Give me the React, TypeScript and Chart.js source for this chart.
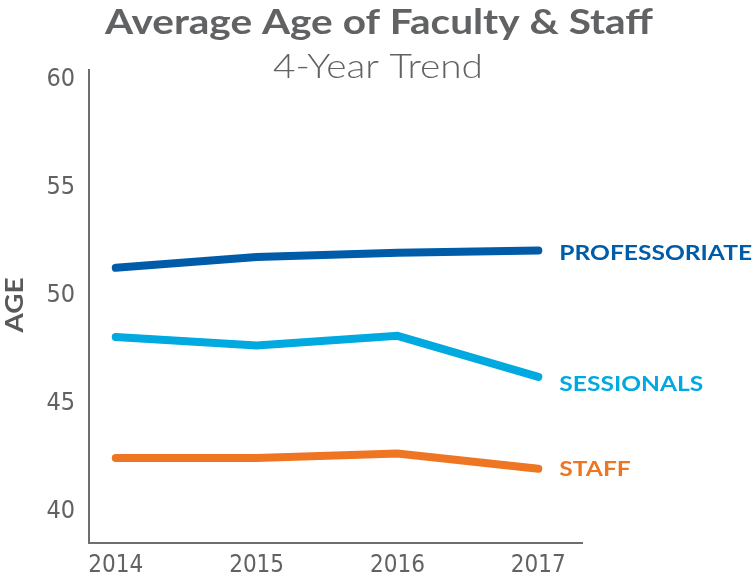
import React, { useEffect, useRef } from "react";
import { Chart, registerables } from "chart.js";

Chart.register(...registerables);

const years = [2014, 2015, 2016, 2017];
const professoriate = [51.3, 51.8, 52.0, 52.1];
const sessionals = [48.1, 47.7, 48.15, 46.25];
const staff = [42.5, 42.5, 42.7, 42.0];
const seriesNames = ["PROFESSORIATE", "SESSIONALS", "STAFF"];
const seriesColors = ["#005ca8", "#00a9e0", "#ee7623"];
const labelNudge = [3, 7, 1];
const yTicks = [40, 45, 50, 55, 60];
const titleText = "Average Age of Faculty & Staff";
const subtitleText = "4-Year Trend";
const yAxisTitle = "AGE";

const GRAY = "#616264";
const NARROW = "'Liberation Sans Narrow', 'DejaVu Sans Condensed', 'Roboto Condensed', Roboto, sans-serif";
const HEAD = "Lato, 'Open Sans', sans-serif";

function fitText(ctx: any, text: string, cx: number, cy: number, width: number, align: "center" | "left") {
  const w = ctx.measureText(text).width;
  const sx = width / w;
  ctx.save();
  ctx.translate(cx, cy);
  ctx.scale(sx, 1);
  ctx.textAlign = align;
  ctx.fillText(text, 0, 0);
  ctx.restore();
}

const decorPlugin = {
  id: "decor",
  afterDraw(chart: any) {
    const ctx = chart.ctx;
    ctx.save();
    ctx.fillStyle = GRAY;
    ctx.textBaseline = "middle";
    ctx.font = `bold 34px ${HEAD}`;
    fitText(ctx, titleText, 379, 23, 548, "center");
    ctx.font = `300 33px ${HEAD}`;
    fitText(ctx, subtitleText, 378, 67, 210, "center");

    ctx.save();
    ctx.translate(15, 305);
    ctx.rotate(-Math.PI / 2);
    ctx.font = `bold 25px ${HEAD}`;
    ctx.fillStyle = "#58595b";
    fitText(ctx, yAxisTitle, 0, 0, 55, "center");
    ctx.restore();

    chart.data.datasets.forEach((ds: any, i: number) => {
      const meta = chart.getDatasetMeta(i);
      const last = meta.data[meta.data.length - 1];
      ctx.font = `bold 21px ${HEAD}`;
      ctx.fillStyle = seriesColors[i];
      const w = ctx.measureText(seriesNames[i]).width * 1.17;
      fitText(ctx, seriesNames[i], last.x + 21, last.y + labelNudge[i], w, "left");
    });
    ctx.restore();
  },
};

export default function App() {
  const ref = useRef<HTMLCanvasElement | null>(null);
  useEffect(() => {
    if (!ref.current) return;
    const mk = (vals: number[]) => years.map((y, i) => ({ x: y, y: vals[i] }));
    const chart = new Chart(ref.current, {
      type: "line",
      data: {
        datasets: [professoriate, sessionals, staff].map((vals, i) => ({
          label: seriesNames[i],
          data: mk(vals),
          borderColor: seriesColors[i],
          backgroundColor: seriesColors[i],
          borderWidth: 8,
          borderCapStyle: "round" as const,
          borderJoinStyle: "miter" as const,
          pointRadius: 0,
          tension: 0,
          fill: false,
        })),
      },
      options: {
        animation: false,
        responsive: false,
        maintainAspectRatio: false,
        layout: { padding: { top: 70, right: 170, left: 0, bottom: 0 } },
        plugins: {
          legend: { display: false },
          tooltip: { enabled: false },
          title: { display: false },
        },
        scales: {
          x: {
            type: "linear",
            min: 2013.81,
            max: 2017.31,
            afterBuildTicks: (s: any) => {
              s.ticks = years.map((v) => ({ value: v }));
            },
            afterFit: (s: any) => {
              s.height = 33;
            },
            grid: { display: false, drawTicks: false },
            border: { display: true, color: "#6d6e70", width: 2 },
            ticks: {
              color: GRAY,
              padding: 8,
              font: { family: NARROW, size: 24 },
              callback: (v: any) => String(v),
              maxRotation: 0,
            },
          },
          y: {
            type: "linear",
            min: 38.56,
            max: 60.46,
            afterBuildTicks: (s: any) => {
              s.ticks = yTicks.map((v) => ({ value: v }));
            },
            afterFit: (s: any) => {
              s.width = 89;
            },
            grid: { display: false, drawTicks: false },
            border: { display: true, color: "#6d6e70", width: 2 },
            ticks: {
              color: GRAY,
              padding: 14,
              font: { family: NARROW, size: 25 },
            },
          },
        },
      },
      plugins: [decorPlugin],
    });
    return () => chart.destroy();
  }, []);
  return (
    <div style={{ position: "fixed", left: 0, top: 0, width: 752, height: 576, background: "#fff" }}>
      <canvas ref={ref} width={752} height={576} style={{ width: 752, height: 576, display: "block" }} />
    </div>
  );
}
